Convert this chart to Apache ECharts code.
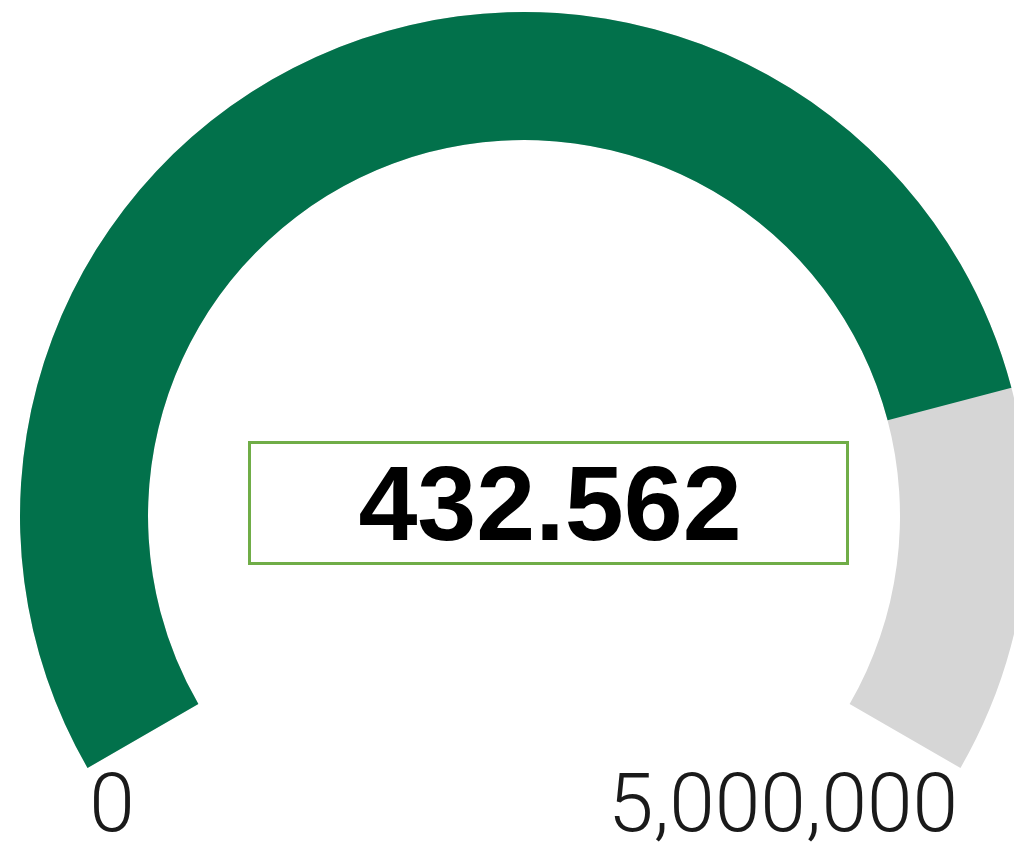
<!DOCTYPE html>
<html>
<head>
<meta charset="utf-8">
<script src="https://cdn.jsdelivr.net/npm/echarts@6/dist/echarts.min.js"></script>
<style>
html,body{margin:0;padding:0;background:#fff;}
#chart{width:1014px;height:845px;}
</style>
</head>
<body>
<div id="chart"></div>
<script>
// Data
const gaugeMin = [0];
const gaugeMax = [5000000];
const gaugeValues = [4068000];
const displayTexts = ['432.562'];
const tickLabels = ['0', '5,000,000'];

const chart = echarts.init(document.getElementById('chart'), null, {renderer: 'canvas'});

const cx = 524, cy = 516, R = 504, band = 128;
const labelFont = '300 82px Roboto, "Noto Sans", sans-serif';

const option = {
  backgroundColor: '#ffffff',
  animation: false,
  series: [{
    type: 'gauge',
    center: [cx, cy],
    radius: R,
    startAngle: 210,
    endAngle: -30,
    min: gaugeMin[0],
    max: gaugeMax[0],
    splitNumber: 1,
    progress: {
      show: true,
      width: band,
      roundCap: false,
      itemStyle: { color: '#02714B' }
    },
    axisLine: {
      roundCap: false,
      lineStyle: { width: band, color: [[1, '#D6D6D6']] }
    },
    pointer: { show: false },
    anchor: { show: false },
    axisTick: { show: false },
    splitLine: { show: false },
    axisLabel: { show: false },
    title: { show: false },
    detail: {
      show: true,
      offsetCenter: [26, -5],
      formatter: function () { return displayTexts[0]; },
      color: '#000000',
      fontFamily: '"Liberation Sans", Arial, sans-serif',
      fontWeight: 'bold',
      fontSize: 106,
      align: 'center'
    },
    data: [{ value: gaugeValues[0] }]
  }],
  graphic: [
    {
      type: 'rect',
      shape: { x: 249.5, y: 442.5, width: 598, height: 121 },
      style: { fill: 'none', stroke: '#70AD47', lineWidth: 3 },
      z: 10
    },
    {
      type: 'text',
      style: {
        text: tickLabels[0],
        x: 112, y: 810,
        align: 'center', verticalAlign: 'middle',
        fill: '#1a1a1a',
        font: labelFont
      }
    },
    {
      type: 'text',
      style: {
        text: tickLabels[1],
        x: 783, y: 810,
        align: 'center', verticalAlign: 'middle',
        fill: '#1a1a1a',
        font: labelFont
      }
    }
  ]
};
chart.setOption(option);
</script>
</body>
</html>
